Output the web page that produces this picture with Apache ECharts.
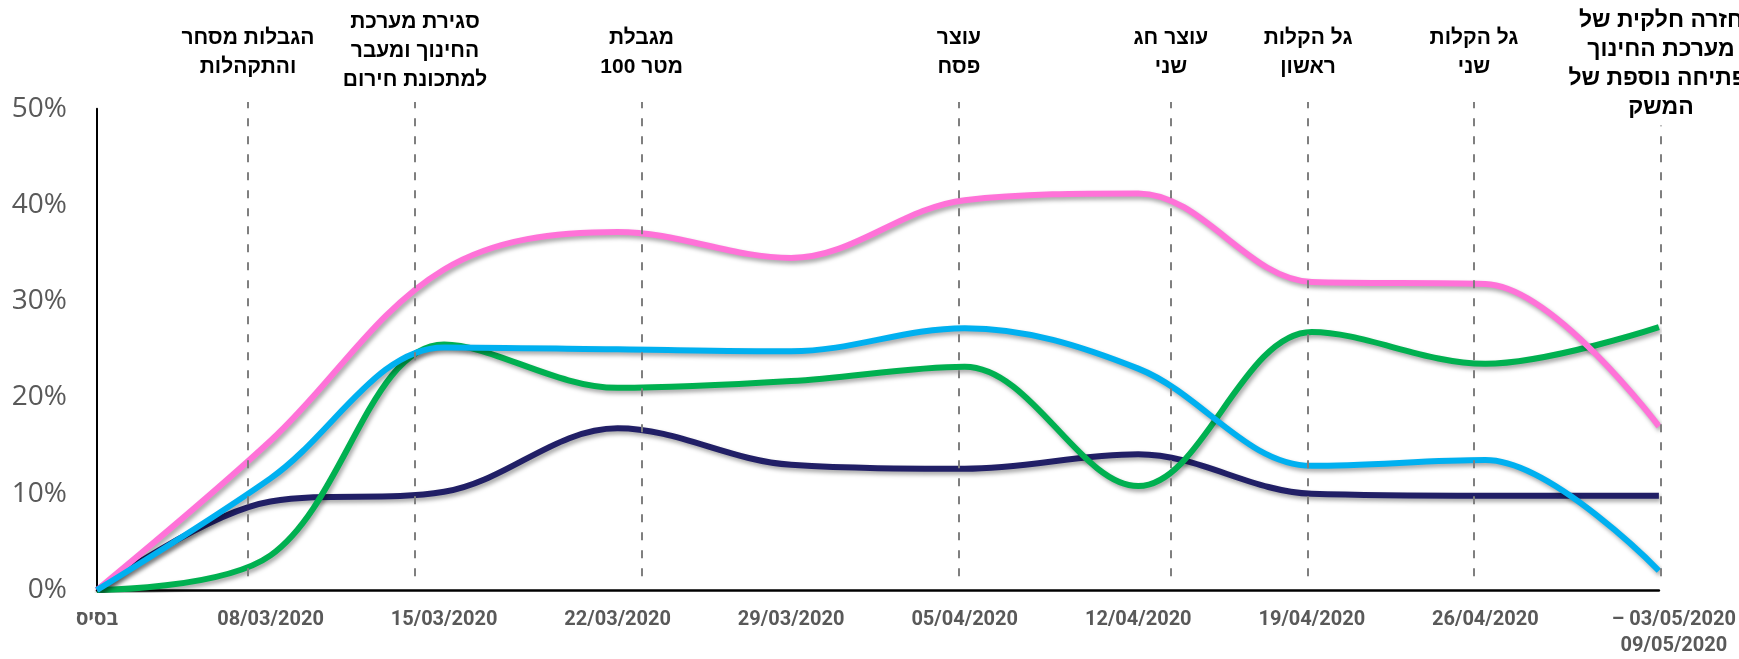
<!DOCTYPE html>
<html>
<head>
<meta charset="utf-8">
<script src="https://cdn.jsdelivr.net/npm/echarts@6/dist/echarts.min.js"></script>
<style>
html,body{margin:0;padding:0;background:#fff;}
#chart{width:1739px;height:659px;}
</style>
</head>
<body>
<div id="chart"></div>
<script>
const xLabels = ['בסיס','08/03/2020','15/03/2020','22/03/2020','29/03/2020','05/04/2020','12/04/2020','19/04/2020','26/04/2020','– 03/05/2020\n09/05/2020'];
const navy  = [0, 9.2, 10.2, 16.8, 13.0, 12.6, 14.1, 10.0, 9.8, 9.8];
const green = [0, 3.6, 25.5, 21.0, 21.7, 23.2, 10.8, 26.8, 23.5, 27.3];
const pink  = [0, 15.5, 33.3, 37.2, 34.5, 40.5, 41.2, 32.0, 31.8, 17.0];
const blue  = [0, 11.6, 25.2, 25.0, 24.8, 27.2, 23.0, 12.9, 13.5, 2.0];
const eventPos = [0.869, 1.83, 3.134, 4.96, 6.18, 6.969, 7.924, 9];
const eventTop = [50.7, 50.7, 50.7, 50.7, 50.7, 50.7, 50.7, 48.1];
const eventDist = [20, 7, 20, 20, 20, 20, 20, 3];
const eventText = [
  'הגבלות מסחר\nוהתקהלות',
  'סגירת מערכת\nהחינוך ומעבר\nלמתכונת חירום',
  'מגבלת\nמטר 100',
  'עוצר\nפסח',
  'עוצר חג\nשני',
  'גל הקלות\nראשון',
  'גל הקלות\nשני',
  'חזרה חלקית של\nמערכת החינוך\nופתיחה נוספת של\nהמשק'
];
const yTicks = [0, 10, 20, 30, 40, 50];
const markerRange = [-1.5, 50.7];

const toPairs = arr => arr.map((v, i) => [i, v]);
const markData = eventPos.map((x, i) => [
  {coord: [x, markerRange[0]], label: Object.assign({formatter: eventText[i], distance: eventDist[i]},
     i === eventPos.length - 1 ? {fontSize: 23} : {})},
  {coord: [x, eventTop[i]]}
]);

const shadow = {shadowColor: 'rgba(0,0,0,0.35)', shadowBlur: 4, shadowOffsetX: 2, shadowOffsetY: 3};
function mkSeries(name, data, color, extra) {
  return Object.assign({
    name: name, type: 'line', data: toPairs(data), smooth: 0.35, symbol: 'none',
    lineStyle: Object.assign({color: color, width: 6}, shadow),
    itemStyle: {color: color}, z: 3
  }, extra || {});
}

const labelFont = {color: '#595959', fontSize: 20, lineHeight: 26, fontWeight: 'bold', fontFamily: 'Roboto, Open Sans, sans-serif'};
const pxPerUnit = (590.7 - 108.7) / 50;
const chart = echarts.init(document.getElementById('chart'), null, {renderer: 'canvas'});
chart.setOption({
  animation: false,
  backgroundColor: '#ffffff',
  grid: [
    {left: 97, right: 78, top: 108.7, bottom: 68.3},
    {left: 97, right: 78, top: 108.7 - (markerRange[1] - 50) * pxPerUnit, bottom: 68.3 + (0 - markerRange[0]) * pxPerUnit}
  ],
  xAxis: [{
    type: 'value', min: 0, max: 9, interval: 1, gridIndex: 0,
    axisLine: {show: true, lineStyle: {color: '#000', width: 2.5}},
    axisTick: {show: false},
    splitLine: {show: false},
    axisLabel: Object.assign({}, labelFont, {
      margin: 17,
      formatter: v => {
        const s = xLabels[v] || '';
        if (s.indexOf('\n') < 0) return s;
        return s.split('\n').map(t => '{w|' + t + '}').join('\n');
      },
      rich: {w: Object.assign({}, labelFont, {padding: [0, 0, 0, 30]})}
    })
  }, {
    type: 'value', min: 0, max: 9, gridIndex: 1, show: false
  }],
  yAxis: [{
    type: 'value', min: yTicks[0], max: yTicks[yTicks.length - 1], interval: 10, gridIndex: 0,
    axisLine: {show: true, lineStyle: {color: '#000', width: 2}},
    axisTick: {show: false},
    splitLine: {show: false},
    axisLabel: {
      color: '#595959', fontSize: 28, margin: 30,
      fontFamily: 'Open Sans, DejaVu Sans, sans-serif',
      formatter: '{value}%'
    }
  }, {
    type: 'value', min: markerRange[0], max: markerRange[1], gridIndex: 1, show: false
  }],
  series: [
    {
      name: 'events', type: 'line', xAxisIndex: 1, yAxisIndex: 1, data: [], z: 1,
      markLine: {
        silent: true, symbol: ['none', 'none'], animation: false,
        lineStyle: {color: '#7f7f7f', width: 2, type: [8, 10]},
        label: {
          show: true, position: 'end', color: '#000', fontSize: 21, lineHeight: 29,
          fontWeight: 'bold', fontFamily: 'Liberation Sans, DejaVu Sans, sans-serif', align: 'center'
        },
        emphasis: {disabled: true},
        data: markData
      }
    },
    mkSeries('סדרה 1', navy, '#211F66'),
    mkSeries('סדרה 2', green, '#00B050'),
    mkSeries('סדרה 3', pink, '#FF72D8'),
    mkSeries('סדרה 4', blue, '#00B0F0')
  ]
});
</script>
</body>
</html>
